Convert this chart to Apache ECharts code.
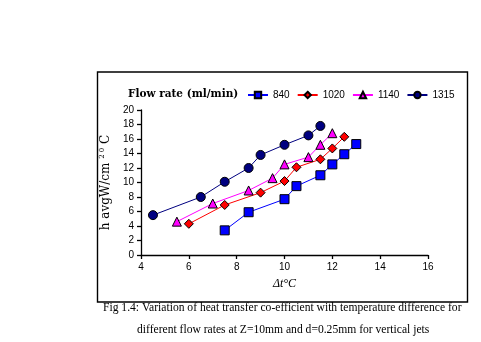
<!DOCTYPE html>
<html>
<head>
<meta charset="utf-8">
<script src="https://cdn.jsdelivr.net/npm/echarts@6/dist/echarts.min.js"></script>
<style>html,body{margin:0;padding:0;background:#fff;}#c{width:481px;height:342px;}</style>
</head>
<body>
<div id="c"></div>
<script>
const seriesNames = ['840', '1020', '1140', '1315'];
const flow840 = [[7.5,3.4],[8.5,5.9],[10,7.7],[10.5,9.5],[11.5,11.0],[12,12.5],[12.5,13.9],[13,15.3]];
const flow1020 = [[6,4.3],[7.5,6.9],[9,8.6],[10,10.2],[10.5,12.1],[11.5,13.2],[12,14.7],[12.5,16.3]];
const flow1140 = [[5.5,4.6],[7,7.1],[8.5,8.9],[9.5,10.6],[10,12.5],[11,13.5],[11.5,15.2],[12,16.8]];
const flow1315 = [[4.5,5.5],[6.5,8.0],[7.5,10.1],[8.5,12.0],[9,13.8],[10,15.2],[11,16.5],[11.5,17.8]];
const legendTitle = 'Flow rate (ml/min)';
const captionLine1 = 'Fig 1.4: Variation of heat transfer co-efficient with temperature difference for';
const captionLine2 = 'different flow rates at Z=10mm and d=0.25mm for vertical jets';

const colors = ['#0000FF', '#FF0000', '#FF00FF', '#000080'];
const symbols = ['rect', 'diamond', 'triangle', 'circle'];
const sizes = [9, 9, 9, 9];
const datasets = [flow840, flow1020, flow1140, flow1315];

const chart = echarts.init(document.getElementById('c'), null, {renderer: 'canvas'});
const serif = '"Liberation Serif", "DejaVu Serif", serif';
const wideSerif = '"DejaVu Serif", serif';
const sans = '"Liberation Sans", Arial, sans-serif';

chart.setOption({
  animation: false,
  backgroundColor: '#fff',
  title: {
    text: legendTitle,
    left: 123, top: 84,
    textStyle: {fontFamily: wideSerif, fontSize: 10.5, fontWeight: 'bold', color: '#000'}
  },
  legend: {
    data: seriesNames,
    left: 242, top: 85,
    itemWidth: 20, itemHeight: 8, itemGap: 7,
    textStyle: {fontFamily: sans, fontSize: 10, color: '#000'}
  },
  grid: {left: 141, top: 110, right: 53, bottom: 87},
  xAxis: {
    type: 'value', min: 4, max: 16, interval: 2,
    name: 'Δt°C', nameLocation: 'middle', nameGap: 23,
    nameTextStyle: {fontFamily: serif, fontStyle: 'italic', fontSize: 12, color: '#000'},
    axisLine: {show: true, onZero: false, lineStyle: {color: '#000', width: 1.3}},
    axisTick: {show: true, inside: false, length: 4, lineStyle: {color: '#000', width: 1.3}},
    axisLabel: {fontFamily: sans, fontSize: 10, color: '#000', margin: 7},
    splitLine: {show: false}
  },
  yAxis: {
    type: 'value', min: 0, max: 20, interval: 2,
    name: '{a|h avgW/cm }{s|2 0}{a| C}', nameLocation: 'middle', nameGap: 23,
    nameTextStyle: {
      rich: {
        a: {fontFamily: wideSerif, fontSize: 12, color: '#000'},
        s: {fontFamily: wideSerif, fontSize: 7, color: '#000', verticalAlign: 'bottom', padding: [0, 0, 8, 0]}
      }
    },
    axisLine: {show: true, onZero: false, lineStyle: {color: '#000', width: 1.3}},
    axisTick: {show: true, inside: false, length: 4, lineStyle: {color: '#000', width: 1.3}},
    axisLabel: {fontFamily: sans, fontSize: 10, color: '#000', margin: 7},
    splitLine: {show: false}
  },
  graphic: [
    {type: 'rect', shape: {x: 97.5, y: 72, width: 370, height: 230}, style: {fill: null, stroke: '#000', lineWidth: 1.4}, silent: true, z: -1},
    {type: 'text', left: 103, top: 302, style: {text: captionLine1, fontFamily: serif, fontSize: 11.6, fill: '#000'}},
    {type: 'text', left: 137, top: 324, style: {text: captionLine2, fontFamily: serif, fontSize: 11.6, fill: '#000'}}
  ],
  series: datasets.map((d, i) => ({
    name: seriesNames[i],
    type: 'line',
    data: d,
    symbol: symbols[i],
    symbolSize: sizes[i],
    showAllSymbol: true,
    lineStyle: {color: colors[i], width: 1},
    itemStyle: {color: colors[i], borderColor: '#000', borderWidth: 1},
    emphasis: {disabled: true}
  }))
});
</script>
</body>
</html>
